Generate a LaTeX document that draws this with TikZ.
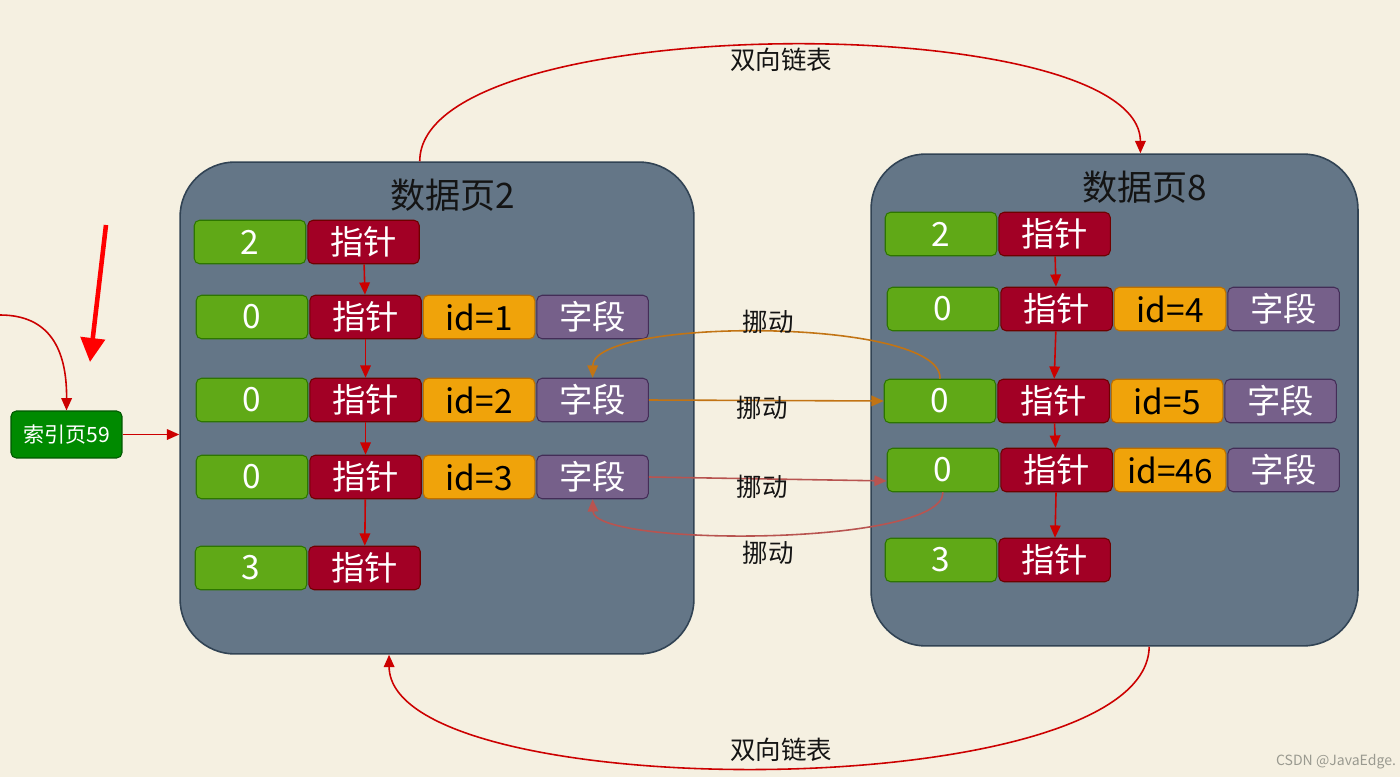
\documentclass[tikz,border=0pt]{standalone}
\usepackage{fontspec}
\setmainfont{Noto Sans CJK SC}
\usepackage{tikz}
\usetikzlibrary{arrows.meta,positioning}

\definecolor{bgcream}{HTML}{F5F0E1}
\definecolor{pagefill}{HTML}{647687}
\definecolor{pageline}{HTML}{314354}
\definecolor{titleink}{HTML}{141414}
\definecolor{numfill}{HTML}{60A917}
\definecolor{numline}{HTML}{2D7600}
\definecolor{ptrfill}{HTML}{A20025}
\definecolor{ptrline}{HTML}{6F0000}
\definecolor{idfill}{HTML}{F0A30A}
\definecolor{idline}{HTML}{BD7000}
\definecolor{fldfill}{HTML}{76608A}
\definecolor{fldline}{HTML}{432D57}
\definecolor{idxfill}{HTML}{008A00}
\definecolor{idxline}{HTML}{005700}
\definecolor{linkred}{HTML}{CC0000}
\definecolor{moveorange}{HTML}{C27414}
\definecolor{movered}{HTML}{B85450}
\definecolor{markgray}{HTML}{9A9A90}

\begin{document}
\begin{tikzpicture}[x=0.02cm, y=-0.02cm,
    page/.style={draw=pageline, fill=pagefill, rounded corners=1.1cm, line width=0.9pt, minimum height=9.84cm},
    pagetitle/.style={font=\fontsize{20}{24}\selectfont, text=titleink},
    cell/.style={rounded corners=3pt, line width=0.6pt, minimum width=2.23cm, minimum height=0.87cm, inner sep=0pt, text=white, font=\fontsize{19}{22}\selectfont},
    numcell/.style={cell, draw=numline, fill=numfill},
    ptrcell/.style={cell, draw=ptrline, fill=ptrfill},
    idcell/.style={cell, draw=idline, fill=idfill, text=black},
    fldcell/.style={cell, draw=fldline, fill=fldfill},
    idxbox/.style={draw=idxline, fill=idxfill, rounded corners=3pt, line width=0.6pt, minimum width=2.22cm, minimum height=0.94cm, text=white, font=\fontsize{12}{14}\selectfont},
    link/.style={-{Triangle[length=7pt, width=6pt]}, draw=linkred, line width=0.9pt},
    moveA/.style={-{Triangle[length=7pt, width=6pt]}, draw=moveorange, line width=0.9pt},
    moveB/.style={-{Triangle[length=7pt, width=6pt]}, draw=movered, line width=0.9pt},
    note/.style={font=\fontsize{14.5}{17}\selectfont, text=titleink},
    node distance=0.6cm and 0.02cm
]
\useasboundingbox (0,0) rectangle (1400,777);
\fill[bgcream] (0,0) rectangle (1400,777);

% data pages
\node[page, minimum width=10.28cm] (pg2) at (437,408) {};
\node[page, minimum width=9.74cm] (pg8) at (1114.5,400) {};
\node[pagetitle] (t2) at (453,195) {数据页2};
\node[pagetitle] (t8) at (1145,187) {数据页8};

% left page rows
\node[numcell] (l1n) at (250,242) {2};
\node[ptrcell, right=of l1n] (l1p) {指针};

\node[numcell] (l2n) at (252,317) {0};
\node[ptrcell, right=of l2n] (l2p) {指针};
\node[idcell, right=of l2p] (l2i) {id=1};
\node[fldcell, right=of l2i] (l2f) {字段};

\node[numcell] (l3n) at (252,400) {0};
\node[ptrcell, right=of l3n] (l3p) {指针};
\node[idcell, right=of l3p] (l3i) {id=2};
\node[fldcell, right=of l3i] (l3f) {字段};

\node[numcell] (l4n) at (252,477) {0};
\node[ptrcell, right=of l4n] (l4p) {指针};
\node[idcell, right=of l4p] (l4i) {id=3};
\node[fldcell, right=of l4i] (l4f) {字段};

\node[numcell] (l5n) at (251,568) {3};
\node[ptrcell, right=of l5n] (l5p) {指针};

% right page rows
\node[numcell] (r1n) at (941,234) {2};
\node[ptrcell, right=of r1n] (r1p) {指针};

\node[numcell] (r2n) at (943,309) {0};
\node[ptrcell, right=of r2n] (r2p) {指针};
\node[idcell, right=of r2p] (r2i) {id=4};
\node[fldcell, right=of r2i] (r2f) {字段};

\node[numcell] (r3n) at (940,401) {0};
\node[ptrcell, right=of r3n] (r3p) {指针};
\node[idcell, right=of r3p] (r3i) {id=5};
\node[fldcell, right=of r3i] (r3f) {字段};

\node[numcell] (r4n) at (943,470) {0};
\node[ptrcell, right=of r4n] (r4p) {指针};
\node[idcell, right=of r4p] (r4i) {id=46};
\node[fldcell, right=of r4i] (r4f) {字段};

\node[numcell] (r5n) at (941,560) {3};
\node[ptrcell, right=of r5n] (r5p) {指针};

% pointer chains
\draw[link] (l1p) -- (l2p);
\draw[link] (l2p) -- (l3p);
\draw[link] (l3p) -- (l4p);
\draw[link] (l4p) -- (l5p);
\draw[link] (r1p) -- (r2p);
\draw[link] (r2p) -- (r3p);
\draw[link] (r3p) -- (r4p);
\draw[link] (r4p) -- (r5p);

% index page
\node[idxbox] (idx) at (66.5,434.5) {索引页59};
\coordinate (from) at (0,315);
\draw[link] (from) .. controls (50,315) and (67,350) .. (idx.north);
\draw[link] (idx.east) -- (idx.east -| pg2.west);
\coordinate (hintA) at (106,225);
\coordinate (hintB) at (90,362);
\draw[-{Triangle[length=0.48cm, width=0.48cm]}, draw=red, fill=red, line width=2.6pt] (hintA) -- (hintB);

% doubly linked list
\draw[link] (pg2.94) .. controls (420,8) and (1140,8) .. (pg8.84);
\node[note] (dl1) at (781,60) {双向链表};
\draw[link] (pg8.-82.5) .. controls (1147,807) and (390,807) .. (pg2.-101);
\node[note] (dl2) at (781,750) {双向链表};

% moves
\draw[moveA] (l3f.east) -- (r3n.west);
\draw[moveA] (r3n.north) .. controls (943,317) and (593,317) .. (l3f.north);
\draw[moveB] (l4f.east) -- (r4n.191);
\draw[moveB] (r4n.south) .. controls (943,547) and (594,547) .. (l4f.south);
\node[note] (m1) at (768,322) {挪动};
\node[note] (m2) at (762,408) {挪动};
\node[note] (m3) at (762,487) {挪动};
\node[note] (m4) at (768,553) {挪动};

\node[text=markgray, font=\fontsize{8}{10}\selectfont] (mark) at (1336,762) {CSDN @JavaEdge.};
\end{tikzpicture}
\end{document}
